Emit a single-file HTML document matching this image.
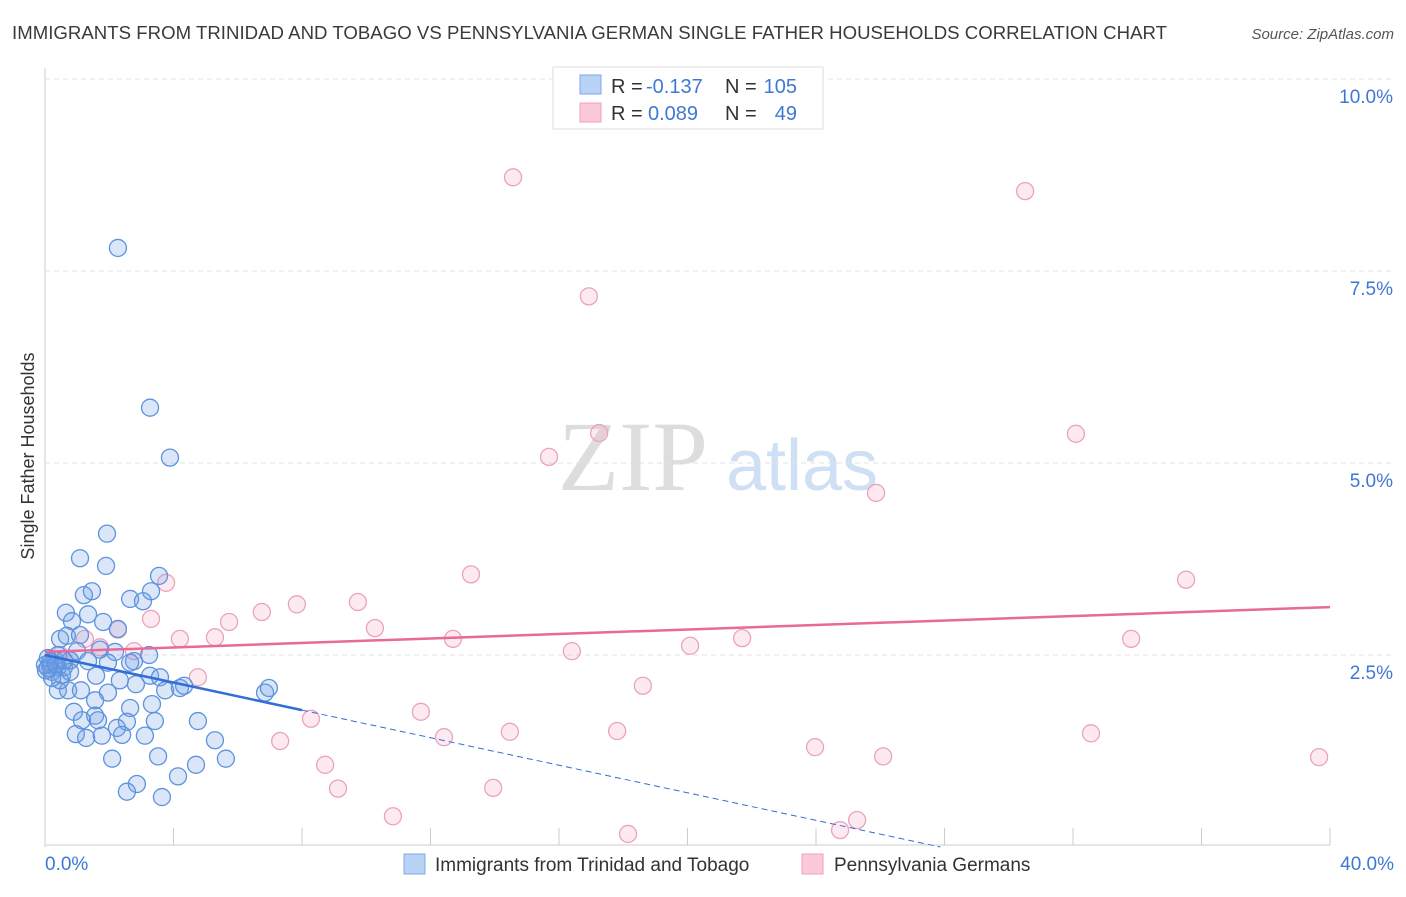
<!DOCTYPE html>
<html><head><meta charset="utf-8"><style>
body{margin:0;background:#fff;font-family:"Liberation Sans",sans-serif}
svg text{font-family:"Liberation Sans",sans-serif}
</style></head><body>
<svg id="chart" width="1406" height="892">
<text x="12" y="39" font-size="18.6" fill="#3a3a3a" textLength="1155">IMMIGRANTS FROM TRINIDAD AND TOBAGO VS PENNSYLVANIA GERMAN SINGLE FATHER HOUSEHOLDS CORRELATION CHART</text>
<text x="1394" y="39" font-size="15" fill="#555" font-style="italic" text-anchor="end">Source: ZipAtlas.com</text>
<text x="0" y="0" transform="translate(34,456) rotate(-90)" font-size="18" fill="#333" text-anchor="middle">Single Father Households</text>
<text x="633" y="490" font-size="100" fill="#ddd" text-anchor="middle" style="font-family:'Liberation Serif',serif">ZIP</text>
<text x="802" y="490" font-size="72" fill="#cfe0f5" text-anchor="middle">atlas</text>
<g id="grid"></g><g id="pts"></g><g id="lines"></g>
<g>
<rect x="553" y="67" width="270" height="62" fill="#fff" stroke="#ddd"/>
<rect x="580" y="75" width="21" height="19" fill="#b9d3f7" stroke="#7fa8e6"/>
<rect x="580" y="103" width="21" height="19" fill="#fcc9d9" stroke="#efa0b9"/>
<text x="611" y="93" font-size="20" fill="#333">R =</text>
<text x="646" y="93" font-size="20" fill="#3f78d4">-0.137</text>
<text x="725" y="93" font-size="20" fill="#333">N =</text>
<text x="797" y="93" font-size="20" fill="#3f78d4" text-anchor="end">105</text>
<text x="611" y="120" font-size="20" fill="#333">R =</text>
<text x="648" y="120" font-size="20" fill="#3f78d4">0.089</text>
<text x="725" y="120" font-size="20" fill="#333">N =</text>
<text x="797" y="120" font-size="20" fill="#3f78d4" text-anchor="end">49</text>
</g>
<g>
<rect x="404" y="854" width="21" height="20" fill="#b9d3f7" stroke="#7fa8e6"/>
<text x="435" y="871" font-size="19" fill="#333">Immigrants from Trinidad and Tobago</text>
<rect x="802" y="854" width="21" height="20" fill="#fcc9d9" stroke="#efa0b9"/>
<text x="834" y="871" font-size="19" fill="#333">Pennsylvania Germans</text>
</g>
<text x="45" y="870" font-size="19" fill="#3f78d4">0.0%</text>
<text x="1394" y="870" font-size="19" fill="#3f78d4" text-anchor="end">40.0%</text>
</svg>
<script>
const yTicks=[2.5,5,7.5,10];
const yTickLabels=["2.5%","5.0%","7.5%","10.0%"];
const xTicks=[4,8,12,16,20,24,28,32,36,40];
const blueX=[2.27,3.27,3.89,1.93,1.09,1.90,3.55,3.30,1.46,1.21,2.65,3.05,0.65,1.34,1.81,0.84,2.27,0.47,0.68,1.09,1.00,1.71,2.18,3.24,2.77,0.40,0.59,0.78,1.34,1.96,2.65,3.27,3.58,1.59,2.33,3.74,4.20,4.33,0.40,0.72,1.12,2.83,1.96,1.56,1.56,3.33,2.65,0.90,3.42,4.76,1.15,1.65,2.55,2.24,0.96,1.28,1.77,2.40,3.11,6.85,6.97,5.29,3.52,2.09,5.63,4.70,4.14,2.86,2.55,3.64,0.40,0.16,0.22,0.31,0.53,0.09,0.47,0.78,0.22,0.00,0.09,0.16,0.03,0.34,0.59];
const blueY=[7.80,5.72,5.07,4.08,3.76,3.66,3.53,3.33,3.33,3.28,3.23,3.20,3.05,3.03,2.93,2.94,2.84,2.71,2.75,2.76,2.55,2.57,2.54,2.50,2.42,2.34,2.34,2.43,2.42,2.40,2.40,2.23,2.21,2.23,2.17,2.04,2.07,2.10,2.04,2.04,2.04,2.12,2.01,1.91,1.71,1.86,1.81,1.76,1.64,1.64,1.65,1.65,1.63,1.55,1.47,1.42,1.45,1.46,1.45,2.01,2.07,1.39,1.18,1.15,1.15,1.07,0.92,0.82,0.72,0.65,2.50,2.37,2.28,2.43,2.24,2.33,2.17,2.28,2.20,2.37,2.46,2.41,2.30,2.38,2.43];
const pinkX=[14.57,30.51,16.93,17.25,15.69,32.09,25.87,3.77,13.26,35.52,9.74,7.84,6.75,3.30,5.73,2.27,10.27,5.29,4.20,12.70,21.70,33.81,20.08,16.40,2.77,4.76,18.61,11.70,8.28,17.81,14.47,32.56,7.32,12.42,23.97,26.09,39.66,8.72,9.12,13.95,10.83,25.28,24.75,18.15,0.47,0.78,0.16,1.71,1.24];
const pinkY=[8.72,8.54,7.17,5.39,5.08,5.38,4.61,3.44,3.55,3.48,3.19,3.16,3.06,2.97,2.93,2.83,2.85,2.73,2.71,2.71,2.72,2.71,2.62,2.55,2.55,2.21,2.10,1.76,1.67,1.51,1.50,1.48,1.38,1.43,1.30,1.18,1.17,1.07,0.76,0.77,0.40,0.35,0.22,0.17,2.50,2.43,2.33,2.60,2.71];
const blueTrend=[2.50,-0.0897]; // intercept, slope
const blueSolidEnd=8;
const pinkTrend=[2.54,0.0146];
const sx=v=>45+v*32.125, sy=v=>847-v*76.8;
const NS="http://www.w3.org/2000/svg";
function mk(tag,attrs,parent){const e=document.createElementNS(NS,tag);for(const k in attrs)e.setAttribute(k,attrs[k]);parent.appendChild(e);return e;}
const grid=document.getElementById('grid');
let ax=mk('line',{x1:45,y1:68,x2:45,y2:847,stroke:'#ccc'},grid);


let bx=mk('line',{x1:45,y1:845,x2:1330,y2:845,stroke:'#ccc'},grid);


yTicks.forEach((t,i)=>{
 const g=mk('line',{x1:45,y1:sy(t),x2:1394,y2:sy(t),stroke:'#e2e2e2','stroke-dasharray':'5,4'},grid);
 
 
 const tx=mk('text',{x:1393,y:sy(t)+24,'font-size':19,fill:'#3f78d4','text-anchor':'end'},grid);
 tx.textContent=yTickLabels[i];
 
 
});
xTicks.forEach(t=>{
 const l=mk('line',{x1:sx(t),y1:828,x2:sx(t),y2:845,stroke:'#ccc'},grid);
 
 
});
const pts=document.getElementById('pts');
pinkX.forEach((x,i)=>{
 const c=mk('circle',{cx:sx(x),cy:sy(pinkY[i]),r:8.5,fill:'rgba(245,170,195,0.25)',stroke:'#eba3bb','stroke-width':1.3},pts);
 
 
});
blueX.forEach((x,i)=>{
 const c=mk('circle',{cx:sx(x),cy:sy(blueY[i]),r:8.5,fill:'rgba(110,160,230,0.25)',stroke:'#5d93dd','stroke-width':1.3},pts);
 
 
});
const lines=document.getElementById('lines');
const bEnd=-blueTrend[0]/blueTrend[1];
const bMid=blueTrend[0]+blueTrend[1]*blueSolidEnd;
let l1=mk('line',{x1:sx(0),y1:sy(blueTrend[0]),x2:sx(blueSolidEnd),y2:sy(bMid),stroke:'#2f6fd6','stroke-width':2.5},lines);


let l2=mk('line',{x1:sx(blueSolidEnd),y1:sy(bMid),x2:sx(bEnd),y2:sy(0),stroke:'#2f6fd6','stroke-width':1,'stroke-dasharray':'6,4'},lines);


let l3=mk('line',{x1:sx(0),y1:sy(pinkTrend[0]),x2:sx(40),y2:sy(pinkTrend[0]+pinkTrend[1]*40),stroke:'#e8699a','stroke-width':2.5},lines);


</script>
</body></html>
